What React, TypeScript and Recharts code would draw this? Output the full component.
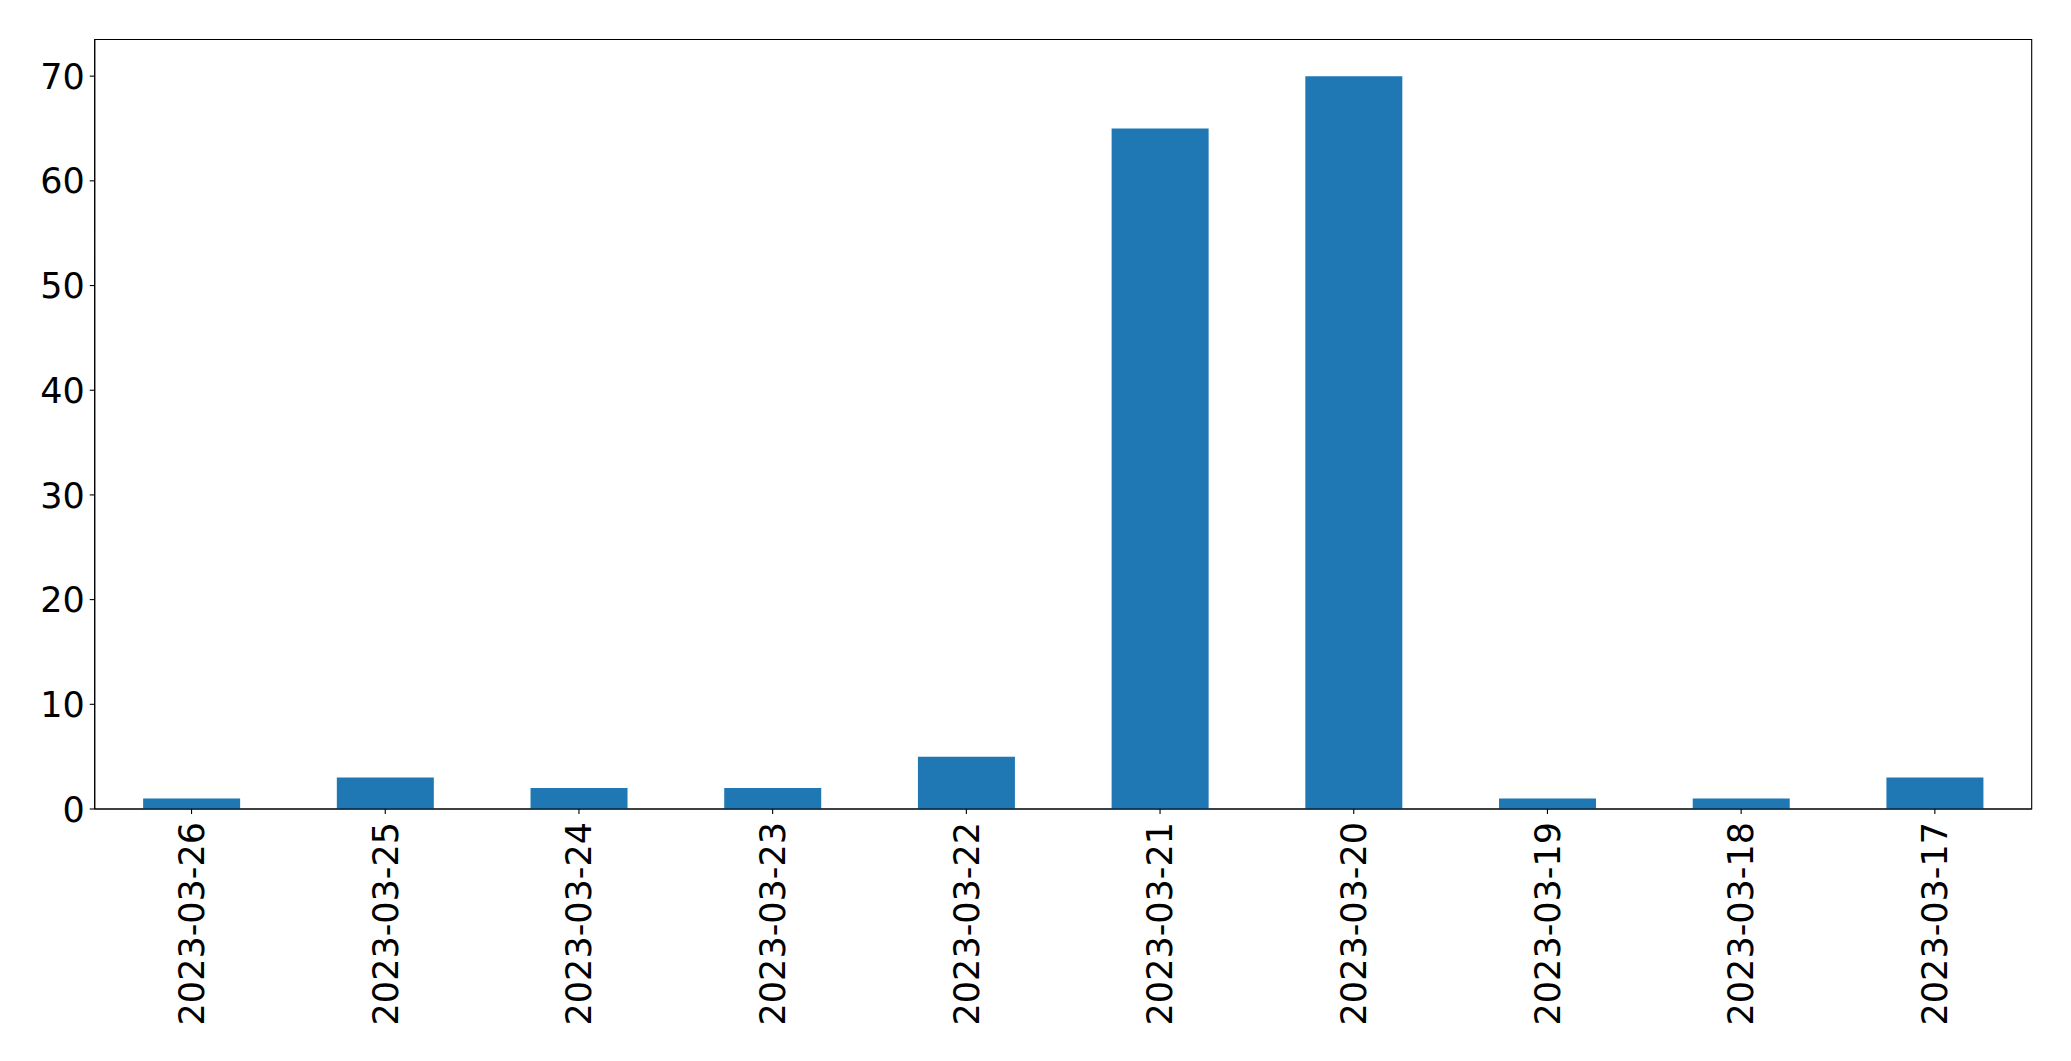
import { BarChart, Bar, XAxis, YAxis, ReferenceArea } from "recharts";

const dates = [
  "2023-03-26",
  "2023-03-25",
  "2023-03-24",
  "2023-03-23",
  "2023-03-22",
  "2023-03-21",
  "2023-03-20",
  "2023-03-19",
  "2023-03-18",
  "2023-03-17",
];
const counts = [1, 3, 2, 2, 5, 65, 70, 1, 1, 3];
const yTicks = [0, 10, 20, 30, 40, 50, 60, 70];

const data = dates.map((d, i) => ({ date: d, count: counts[i] }));

const FONT = "'DejaVu Sans', sans-serif";

function XTick({ x, y, payload }: any) {
  return (
    <text
      x={x}
      y={y}
      transform={`rotate(-90, ${x}, ${y})`}
      textAnchor="end"
      dy="0.35em"
      fontFamily={FONT}
      fontSize={35}
      fill="#000"
    >
      {payload.value}
    </text>
  );
}

function YTick({ x, y, payload }: any) {
  return (
    <text
      x={x}
      y={y}
      textAnchor="end"
      dy="0.36em"
      fontFamily={FONT}
      fontSize={35}
      fill="#000"
    >
      {payload.value}
    </text>
  );
}

export default function App() {
  return (
    <BarChart
      width={2055}
      height={1045}
      data={data}
      margin={{ top: 31.5, right: 31.3, left: 6.7, bottom: 14 }}
      barCategoryGap="25%"
    >
      <XAxis
        dataKey="date"
        height={230}
        tick={<XTick />}
        tickSize={5}
        tickMargin={8}
        interval={0}
        stroke="#000"
        axisLine={{ stroke: "#000", strokeWidth: 1.1 }}
        tickLine={{ stroke: "#000", strokeWidth: 1.1 }}
      />
      <YAxis
        width={80}
        domain={[0, 73.5]}
        ticks={yTicks}
        tick={<YTick />}
        tickSize={5}
        tickMargin={5}
        allowDataOverflow
        stroke="#000"
        axisLine={{ stroke: "#000", strokeWidth: 1.1 }}
        tickLine={{ stroke: "#000", strokeWidth: 1.1 }}
      />
      <Bar dataKey="count" fill="#1f77b4" isAnimationActive={false} />
      <ReferenceArea
        y1={0}
        y2={73.5}
        fill="none"
        fillOpacity={0}
        stroke="#000"
        strokeWidth={1.1}
        ifOverflow="visible"
      />
    </BarChart>
  );
}
